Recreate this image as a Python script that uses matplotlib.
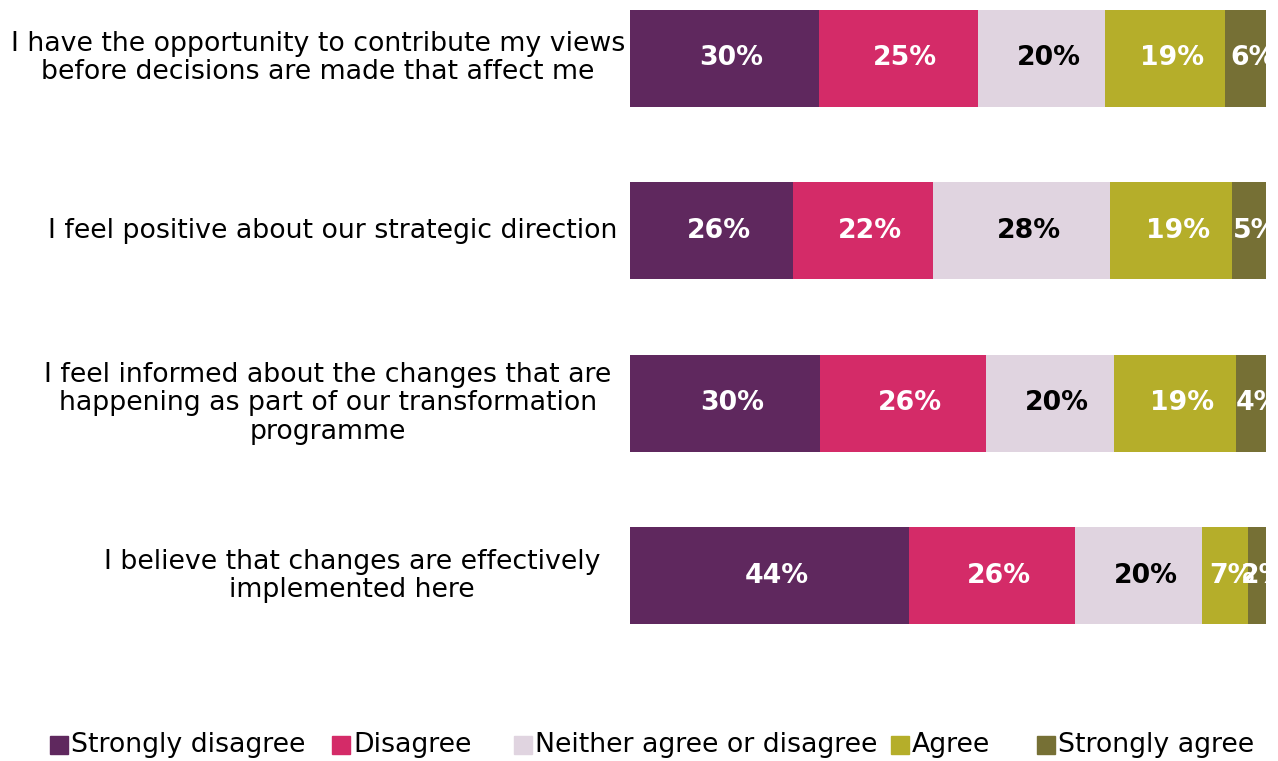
import numpy as np
import matplotlib
matplotlib.use("Agg")
from matplotlib import pyplot as plt
from matplotlib.patches import Rectangle

questions = [
    "I have the opportunity to contribute my views\nbefore decisions are made that affect me",
    "I feel positive about our strategic direction",
    "I feel informed about the changes that are\nhappening as part of our transformation\nprogramme",
    "I believe that changes are effectively\nimplemented here",
]
responses = ["Strongly disagree", "Disagree", "Neither agree or disagree",
             "Agree", "Strongly agree"]
colors = ["#5f285e", "#d42b68", "#e0d4e0", "#b5ae2a", "#767035"]
text_colors = ["white", "white", "black", "white", "white"]

# share of answers per question (%)
strongly_disagree = [29.7, 25.7, 29.9, 43.9]
disagree = [25.0, 22.0, 26.1, 26.1]
neither = [20.0, 27.8, 20.1, 20.0]
agree = [18.9, 19.1, 19.2, 7.2]
strongly_agree = [6.4, 5.4, 4.7, 2.8]
# labels shown in the bars
labels = [
    ["30%", "25%", "20%", "19%", "6%"],
    ["26%", "22%", "28%", "19%", "5%"],
    ["30%", "26%", "20%", "19%", "4%"],
    ["44%", "26%", "20%", "7%", "2%"],
]

data = np.array([strongly_disagree, disagree, neither, agree, strongly_agree]).T
data = data / data.sum(axis=1, keepdims=True) * 100  # 100% stacked

W, H = 1278, 761
fig = plt.figure(figsize=(W / 100, H / 100), dpi=100)
ax = fig.add_axes([630 / W, 1 - 662 / H, 636 / W, 652 / H])

y = np.arange(len(questions))
left = np.zeros(len(questions))
for j in range(len(responses)):
    ax.barh(y, data[:, j], left=left, height=0.56, color=colors[j], edgecolor="none")
    for i in range(len(questions)):
        # labels sit a little right of centre, like excel does it
        ax.annotate(labels[i][j], (left[i] + data[i, j] / 2, y[i]), xytext=(7, 0),
                    textcoords="offset pixels", ha="center", va="center",
                    color=text_colors[j], fontsize=19.3, fontweight="bold", clip_on=True)
    left += data[:, j]

ax.set_xlim(0, 100)
ax.set_ylim(3.5, -0.28)
ax.axis("off")

# category labels (centered blocks)
label_x = [318, 333, 328, 352]
for i, q in enumerate(questions):
    yy = ax.transData.transform((0, y[i]))[1] / H
    fig.text(label_x[i] / W, yy, q, ha="center", va="center", multialignment="center",
             fontsize=19.3, color="black", linespacing=1.12)

# legend
leg_x = [50, 332, 514, 891, 1037]
for x0, name, c in zip(leg_x, responses, colors):
    fig.patches.append(Rectangle((x0 / W, 1 - 754 / H), 18 / W, 18 / H,
                                 transform=fig.transFigure, color=c))
    fig.text((x0 + 21) / W, 1 - 745 / H, name, ha="left", va="center", fontsize=19.3)

fig.savefig("out.png", dpi=100)
